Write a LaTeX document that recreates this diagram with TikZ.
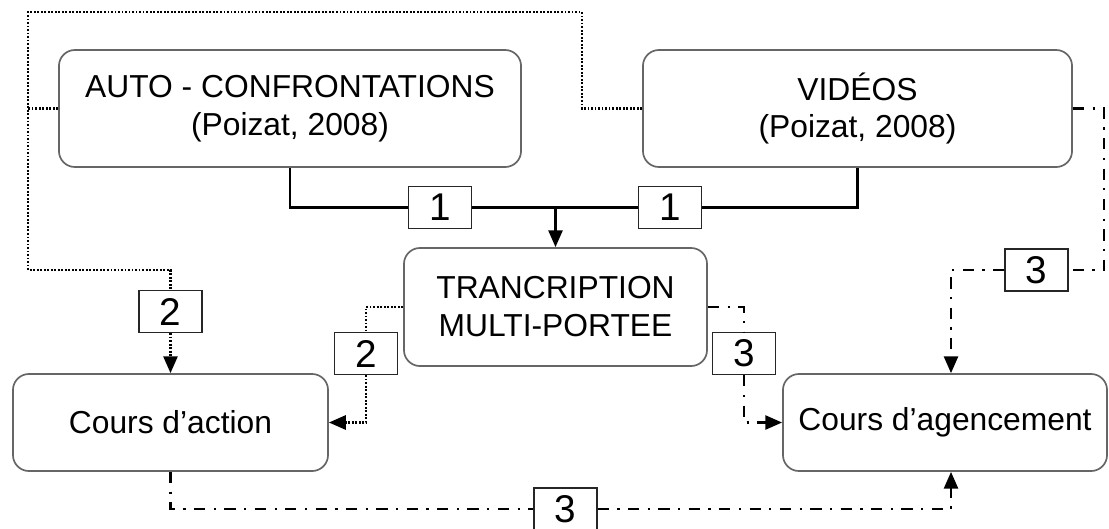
\documentclass[tikz,border=0pt]{standalone}
\usepackage{fontspec}
\setmainfont{Liberation Sans}
\usetikzlibrary{arrows.meta}

\tikzset{
	box/.style={draw=black!60, line width=1.2pt, rounded corners=0.4cm, align=center,
		font=\fontsize{22.6}{27}\selectfont, inner sep=0pt},
	numbox/.style={draw=black!85, line width=0.9pt, fill=white, minimum width=1.575cm,
		minimum height=1.05cm, inner sep=0pt, font=\fontsize{27.5}{30}\selectfont},
	link/.style={line width=1.8pt},
	dotline/.style={line width=1.8pt, dash pattern=on 1.3pt off 1.2pt},
	dashdotline/.style={line width=1.8pt, dash pattern=on 8pt off 6pt on 1.6pt off 6pt},
	tip/.style={-{Triangle[length=12pt,width=10pt]}}
}

\begin{document}
\begin{tikzpicture}[x=0.025cm, y=-0.025cm]
			%%%%% FRAME %%%%%
			\useasboundingbox (0, 0) rectangle (1109, 528);
			
			%%%%% BOXES %%%%%
			\node[box, minimum width=11.55cm, minimum height=2.925cm] (auto) at (290, 108.5) {AUTO - CONFRONTATIONS\\(Poizat, 2008)};
			\node[box, minimum width=10.725cm, minimum height=2.925cm] (videos) at (857.5, 108.5) {VIDÉOS\\(Poizat, 2008)};
			\node[box, minimum width=7.575cm, minimum height=2.95cm] (trans) at (555.5, 307) {TRANCRIPTION\\MULTI-PORTEE};
			\node[box, minimum width=7.875cm, minimum height=2.425cm] (action) at (170.5, 422.5) {Cours d’action};
			\node[box, minimum width=8.1cm, minimum height=2.425cm] (agenc) at (945, 422.5) {Cours d’agencement};
			
			%%%%% NUMBERS %%%%%
			\node[numbox] (n1a) at (440, 207.5) {1};
			\node[numbox] (n1b) at (670, 207.5) {1};
			\node[numbox] (n2a) at (170.5, 311.5) {2};
			\node[numbox] (n2b) at (366, 353.5) {2};
			\node[numbox] (n3a) at (744, 353.5) {3};
			\node[numbox] (n3b) at (1036.5, 270) {3};
			\node[numbox] (n3c) at (565.5, 509) {3};
			
			\coordinate (j1) at (555.5, 207.5);
			\coordinate (d1) at (582, 12);
			\coordinate (d2) at (28, 12);
			\coordinate (d3) at (28, 270);
			\coordinate (d4) at (1104, 270);
			\coordinate (d5) at (951, 270);
			
			%%%%% 1 : solid %%%%%
			\draw[link] (auto.south) |- (n1a.west);
			\draw[link] (n1a.east) -- (n1b.west);
			\draw[link] (n1b.east) -| (videos.south);
			\draw[link, tip] (j1) -- (trans.north);
			
			%%%%% 2 : dotted %%%%%
			\draw[dotline] (videos.west) -| (d1) -- (d2) -- (d3) -| (n2a.north);
			\draw[dotline] (auto.west) -- (auto.west -| d2);
			\draw[dotline, tip] (n2a.south) -- (action.north);
			\draw[dotline] (trans.west) -| (n2b.north);
			\draw[dotline, tip] (n2b.south) |- (action.east);
			
			%%%%% 3 : dash dot %%%%%
			\draw[dashdotline] (trans.east) -| (n3a.north);
			\draw[dashdotline, tip] (n3a.south) |- (agenc.west);
			\draw[dashdotline] (videos.east) -| (d4) -- (n3b.east);
			\draw[dashdotline, tip] (n3b.west) -| (agenc.north -| d5);
			\draw[dashdotline] (action.south) |- (n3c.west);
			\draw[dashdotline, tip] (n3c.east) -| (agenc.south -| d5);
			
			%%%%% END %%%%%
\end{tikzpicture}
\end{document}
